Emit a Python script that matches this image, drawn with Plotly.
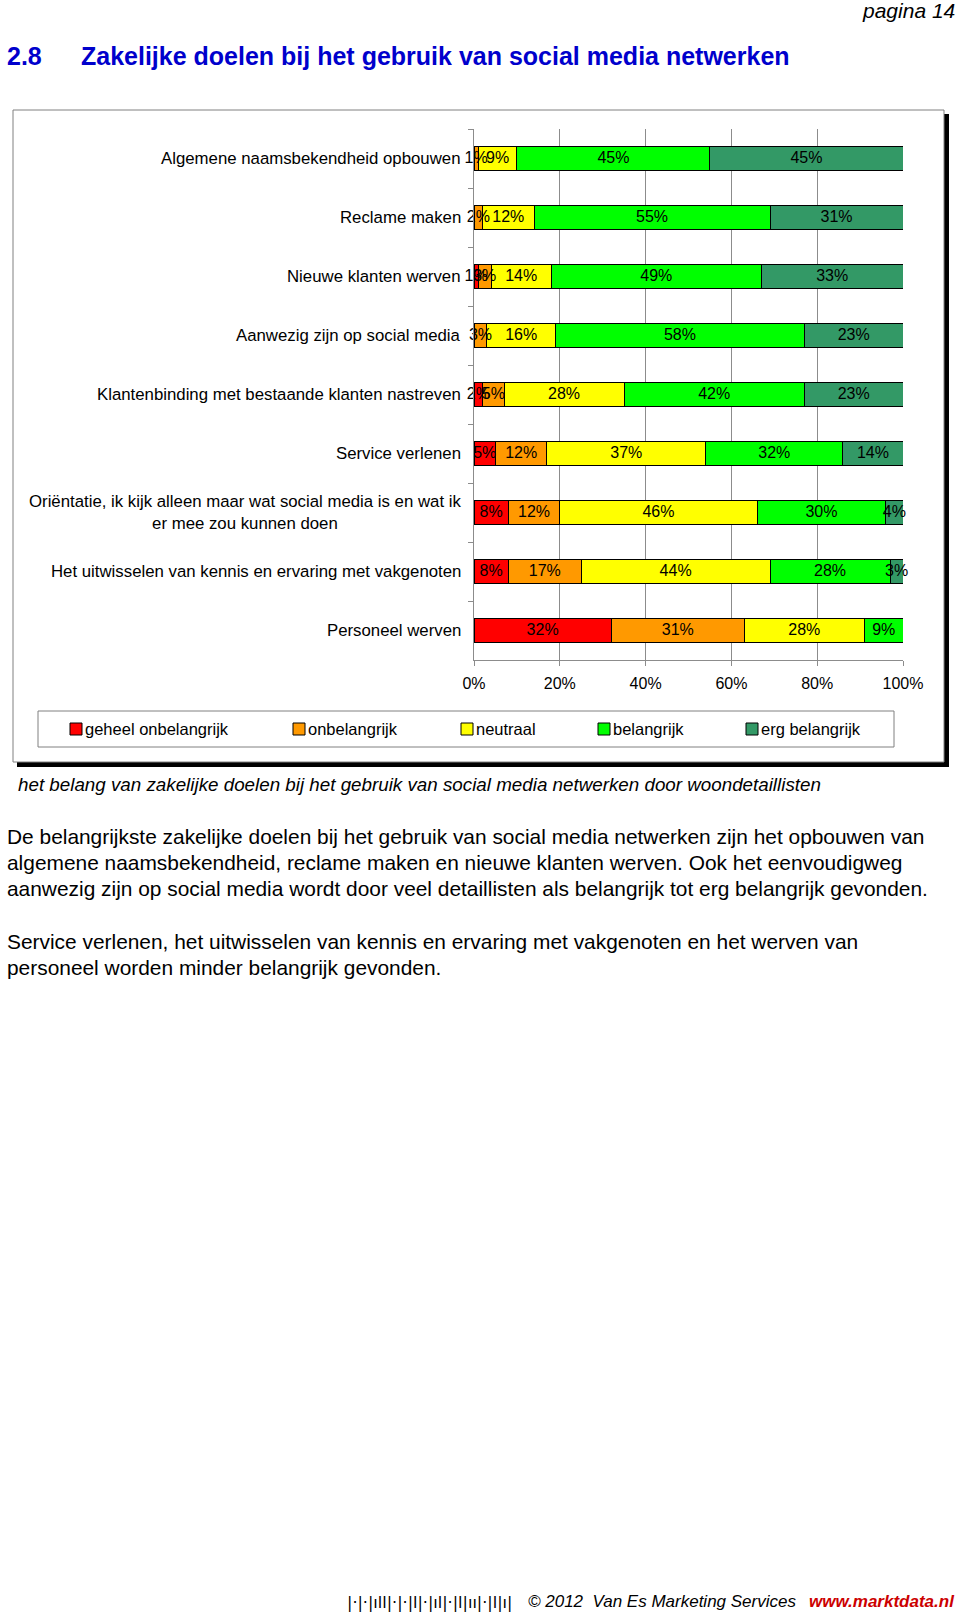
import plotly.graph_objects as go

# ---------------- data ----------------
categories = [
    "Algemene naamsbekendheid opbouwen",
    "Reclame maken",
    "Nieuwe klanten werven",
    "Aanwezig zijn op social media",
    "Klantenbinding met bestaande klanten nastreven",
    "Service verlenen",
    "Oriëntatie, ik kijk alleen maar wat social media is en wat ik<br>er mee zou kunnen doen",
    "Het uitwisselen van kennis en ervaring met vakgenoten",
    "Personeel werven",
]
series_names = ["geheel onbelangrijk", "onbelangrijk", "neutraal", "belangrijk", "erg belangrijk"]
geheel_onbelangrijk = [0, 0, 1, 0, 2, 5, 8, 8, 32]
onbelangrijk = [1, 2, 3, 3, 5, 12, 12, 17, 31]
neutraal = [9, 12, 14, 16, 28, 37, 46, 44, 28]
belangrijk = [45, 55, 49, 58, 42, 32, 30, 28, 9]
erg_belangrijk = [45, 31, 33, 23, 23, 14, 4, 3, 0]
series_values = [geheel_onbelangrijk, onbelangrijk, neutraal, belangrijk, erg_belangrijk]
series_colors = ["#FF0000", "#FF9900", "#FFFF00", "#00FF00", "#339966"]
x_ticks = [0, 20, 40, 60, 80, 100]
x_tick_labels = ["0%", "20%", "40%", "60%", "80%", "100%"]

paragraph_1 = [
    "De belangrijkste zakelijke doelen bij het gebruik van social media netwerken zijn het opbouwen van",
    "algemene naamsbekendheid, reclame maken en nieuwe klanten werven. Ook het eenvoudigweg",
    "aanwezig zijn op social media wordt door veel detaillisten als belangrijk tot erg belangrijk gevonden.",
]
paragraph_2 = [
    "Service verlenen, het uitwisselen van kennis en ervaring met vakgenoten en het werven van",
    "personeel worden minder belangrijk gevonden.",
]

FONT = "Liberation Sans, Arial, sans-serif"

# ---------------- pixel helpers (plot area in page pixels) ----------------
L, R, T, B = 474, 903, 129, 660
W_PAGE, H_PAGE = 960, 1616


def px(x):
    return (x - L) / (R - L)


def py(y):
    return (B - y) / (B - T)


fig = go.Figure()
bases = [0] * len(categories)
for name, vals, col in zip(series_names, series_values, series_colors):
    fig.add_trace(go.Bar(
        y=categories, x=vals, name=name, orientation="h",
        marker=dict(color=col, line=dict(color="#000000", width=1)),
        textposition="none", showlegend=False, hoverinfo="x+name",
    ))
    mids = [b + v / 2 for b, v in zip(bases, vals)]
    fig.add_trace(go.Scatter(
        y=categories, x=mids, mode="text",
        text=[f"{v}%" if v else "" for v in vals],
        textposition="middle center",
        textfont=dict(family=FONT, size=16, color="#000000"),
        cliponaxis=False, showlegend=False, hoverinfo="skip",
    ))
    bases = [b + v for b, v in zip(bases, vals)]

shapes = []
annotations = []

# chart frame with shadow
shapes.append(dict(type="rect", xref="paper", yref="paper", x0=px(944), x1=px(949), y0=py(114), y1=py(767),
                   fillcolor="#000000", line=dict(width=0), layer="below"))
shapes.append(dict(type="rect", xref="paper", yref="paper", x0=px(17), x1=px(949), y0=py(762), y1=py(767),
                   fillcolor="#000000", line=dict(width=0), layer="below"))
shapes.append(dict(type="rect", xref="paper", yref="paper", x0=px(13), x1=px(944), y0=py(110), y1=py(762),
                   fillcolor="rgba(0,0,0,0)", line=dict(color="#808080", width=1), layer="below"))
# legend box
shapes.append(dict(type="rect", xref="paper", yref="paper", x0=px(38), x1=px(894), y0=py(711), y1=py(747),
                   fillcolor="rgba(0,0,0,0)", line=dict(color="#808080", width=1)))

legend_sq_x = [70, 293, 461, 598, 746]
for name, col, sx in zip(series_names, series_colors, legend_sq_x):
    shapes.append(dict(type="rect", xref="paper", yref="paper", x0=px(sx), x1=px(sx + 12),
                       y0=py(723), y1=py(735), fillcolor=col, line=dict(color="#000000", width=1)))
    annotations.append(dict(text=name, xref="paper", yref="paper", x=px(sx + 13), y=py(729),
                            xanchor="left", yanchor="middle", showarrow=False,
                            font=dict(family=FONT, size=16.5, color="#000000")))

# category labels
for c in categories:
    annotations.append(dict(text=c, xref="paper", yref="y", x=px(463), y=c, xanchor="right",
                            yanchor="middle", align="center", showarrow=False,
                            font=dict(family=FONT, size=16.8, color="#000000")))

page_texts = [
    dict(text="<i>pagina 14</i>", x=px(957), y=py(11), xanchor="right",
         font=dict(family=FONT, size=21, color="#000000")),
    dict(text="<b>2.8</b>", x=px(5), y=py(56), xanchor="left",
         font=dict(family=FONT, size=25, color="#0000CC")),
    dict(text="<b>Zakelijke doelen bij het gebruik van social media netwerken</b>", x=px(79), y=py(56),
         xanchor="left", font=dict(family=FONT, size=25, color="#0000CC")),
    dict(text="<i>het belang van zakelijke doelen bij het gebruik van social media netwerken door woondetaillisten</i>",
         x=px(16), y=py(784), xanchor="left", font=dict(family=FONT, size=18.8, color="#000000")),
    dict(text="|·|·|ıll|·|·|l|·|ıl|·|l|ıı|·|l|ı|", x=px(345), y=py(1602), xanchor="left",
         font=dict(family="DejaVu Sans", size=16, color="#000000")),
    dict(text="<i>© 2012  Van Es Marketing Services</i>", x=px(526), y=py(1601), xanchor="left",
         font=dict(family=FONT, size=17, color="#000000")),
    dict(text="<b><i>www.marktdata.nl</i></b>", x=px(957), y=py(1601), xanchor="right",
         font=dict(family=FONT, size=17, color="#CC0000")),
]
for i, line in enumerate(paragraph_1):
    page_texts.append(dict(text=line, x=px(5), y=py(836 + 26.3 * i), xanchor="left",
                           font=dict(family=FONT, size=20.9, color="#000000")))
for i, line in enumerate(paragraph_2):
    page_texts.append(dict(text=line, x=px(5), y=py(941 + 26.3 * i), xanchor="left",
                           font=dict(family=FONT, size=20.9, color="#000000")))
for a in page_texts:
    a.update(xref="paper", yref="paper", yanchor="middle", showarrow=False)
annotations += page_texts

fig.update_layout(
    width=W_PAGE, height=H_PAGE,
    margin=dict(l=L, r=W_PAGE - R, t=T, b=H_PAGE - B, pad=0),
    paper_bgcolor="#FFFFFF", plot_bgcolor="#FFFFFF",
    barmode="stack", bargap=0.593,
    font=dict(family=FONT, size=16, color="#000000"),
    shapes=shapes, annotations=annotations,
    xaxis=dict(range=[0, 100], tickmode="array", tickvals=x_ticks, ticktext=x_tick_labels, showgrid=True,
               gridcolor="#8C8C8C", gridwidth=1, zeroline=False, showline=True,
               linecolor="#8C8C8C", linewidth=1, ticks="outside", ticklen=5, tickcolor="#8C8C8C",
               ticklabelstandoff=4,
               tickfont=dict(family=FONT, size=16, color="#000000"), fixedrange=True),
    yaxis=dict(categoryorder="array", categoryarray=categories, autorange="reversed",
               showticklabels=False, showgrid=False, zeroline=False, showline=True,
               linecolor="#8C8C8C", linewidth=1, ticks="outside", tickson="boundaries",
               ticklen=5, tickcolor="#8C8C8C", fixedrange=True),
)

fig.write_html("out.html", config={"displayModeBar": False},
               post_script="document.body.style.margin='0px';")
